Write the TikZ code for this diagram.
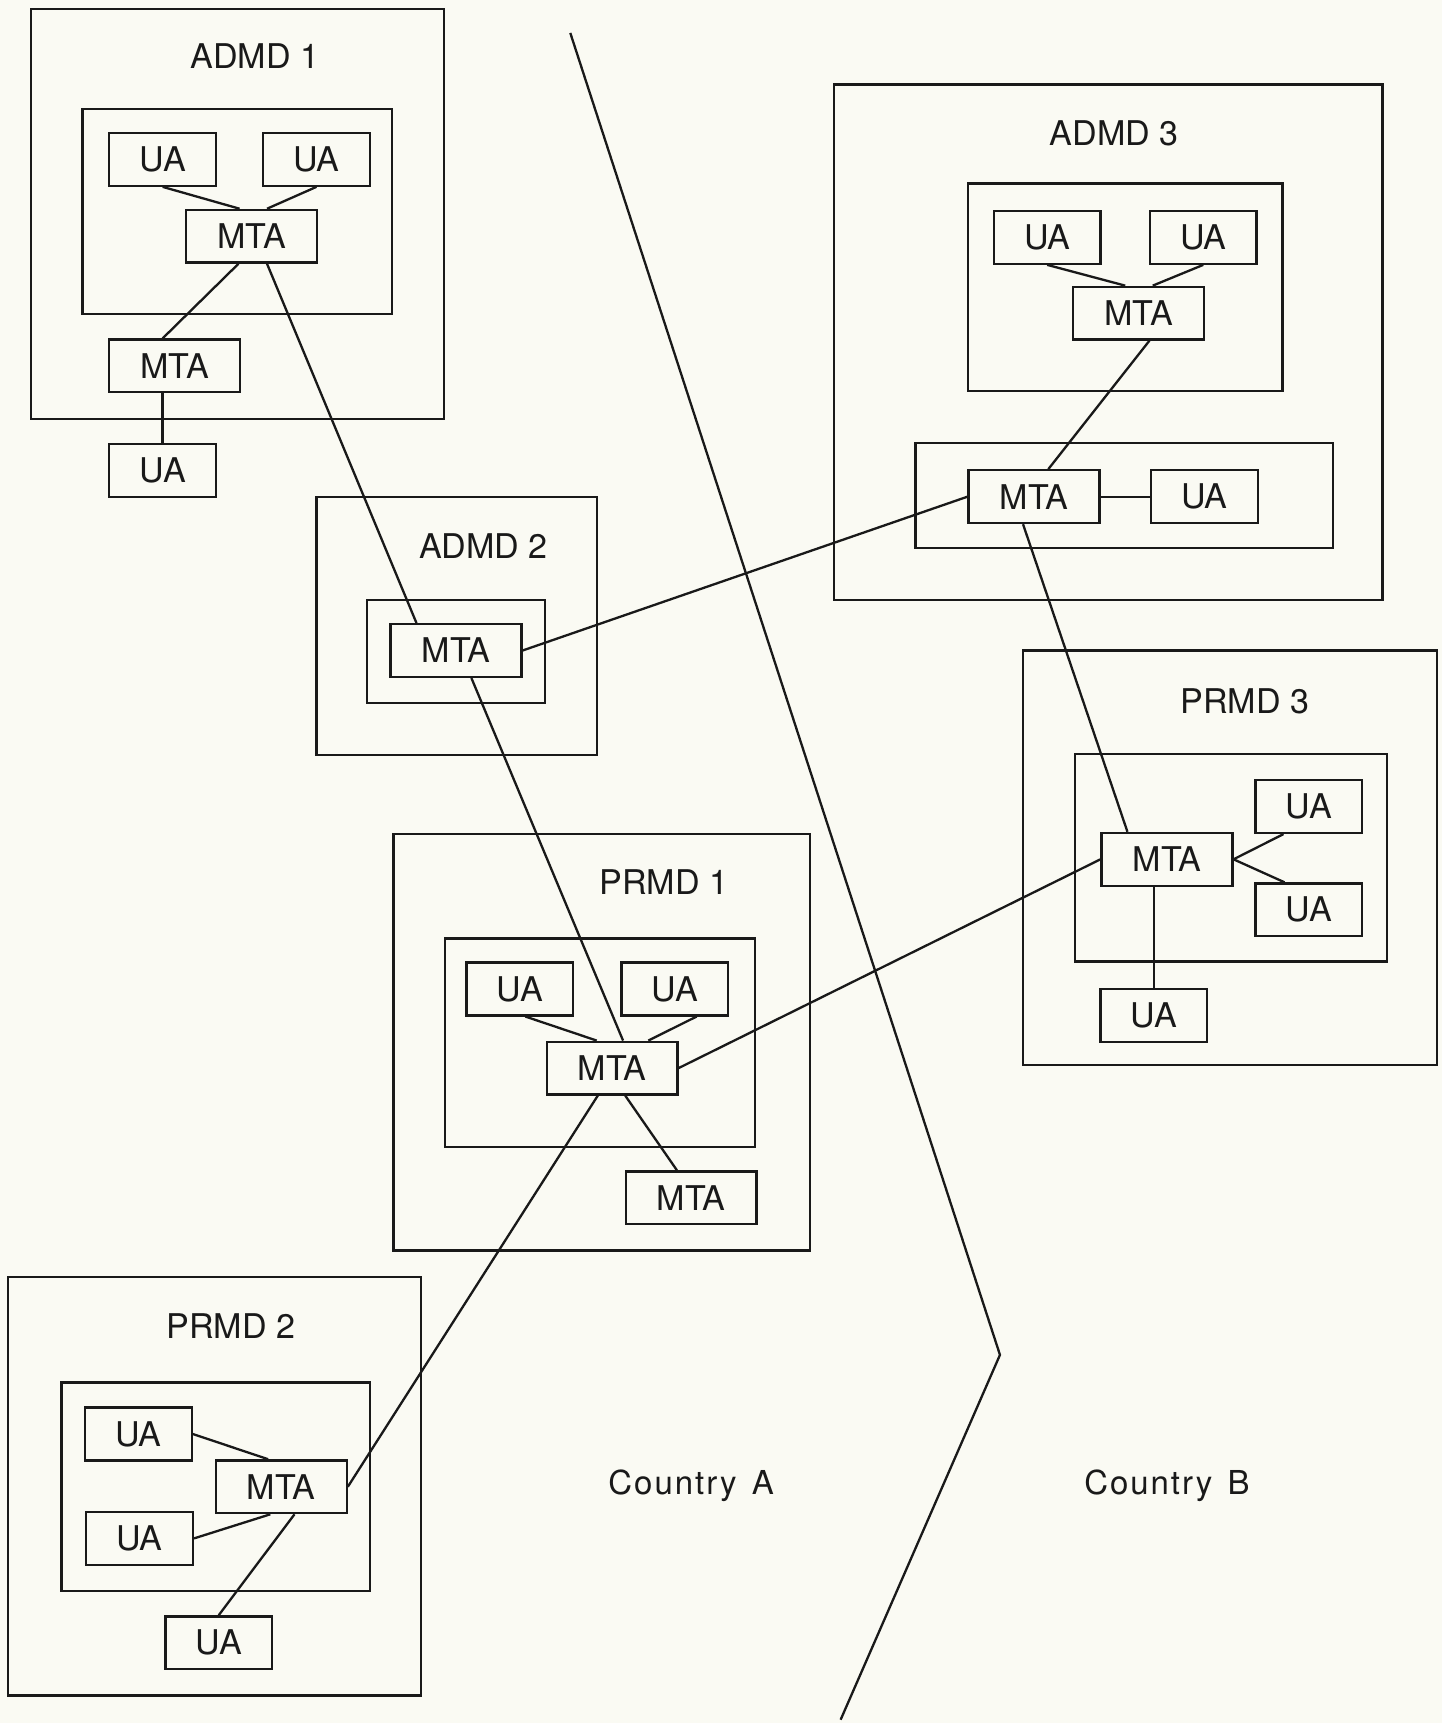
\documentclass[tikz,border=0pt]{standalone}
\usepackage{fontspec}
\setmainfont{TeX Gyre Heros}
\newfontfamily\spacedfont[LetterSpace=6]{TeX Gyre Heros}
\usetikzlibrary{calc,fit}
\definecolor{paper}{RGB}{250,250,243}
\definecolor{ink}{RGB}{25,25,25}
\begin{document}
\begin{tikzpicture}[x=1pt,y=-1pt,
  bx/.style={draw=ink, line width=2.1pt, inner sep=0pt, text=ink, font=\fontsize{31}{37}\selectfont},
  ua/.style={bx, minimum width=97pt, minimum height=48pt},
  mta/.style={bx, minimum width=119pt, minimum height=48pt},
  lbl/.style={font=\fontsize{31}{37}\selectfont, inner sep=0pt, text=ink},
  clbl/.style={font=\spacedfont\fontsize{30}{36}\selectfont, inner sep=0pt, text=ink},
  link/.style={draw=ink, line width=2.1pt},
  area/.style={draw=ink, line width=2.1pt, inner sep=0pt}]
\fill[paper] (0,0) rectangle (1312,1568);
\useasboundingbox (0,0) rectangle (1312,1568);

% ---------- ADMD 1 ----------
\node[area, fit={(28,8) (404,381)}] (a1) {};
\node[area, fit={(75,99) (357,286)}] (a1in) {};
\node[lbl] (a1l) at (232,51) {ADMD 1};
\node[ua]  (a1u1) at (148,145) {UA};
\node[ua]  (a1u2) at (288,145) {UA};
\node[mta] (a1m)  at (229,215) {MTA};
\node[mta] (a1m2) at (159,333) {MTA};
\node[ua]  (a1u3) at (148,428) {UA};

% ---------- ADMD 2 ----------
\node[area, fit={(288,452) (543,687)}] (a2) {};
\node[area, fit={(334,546) (496,640)}] (a2in) {};
\node[lbl] (a2l) at (440,497) {ADMD 2};
\node[mta] (a2m) at (415,592) {MTA};

% ---------- ADMD 3 ----------
\node[area, fit={(759,77) (1258,546)}] (a3) {};
\node[area, fit={(881,167) (1167,356)}] (a3in) {};
\node[area, fit={(833,403) (1213,499)}] (a3in2) {};
\node[lbl] (a3l) at (1014,121) {ADMD 3};
\node[ua]  (a3u1) at (953,216) {UA};
\node[ua]  (a3u2) at (1095,216) {UA};
\node[mta] (a3m)  at (1036,285) {MTA};
\node[mta] (a3m2) at (941,452) {MTA};
\node[ua]  (a3u3) at (1096,452) {UA};

% ---------- PRMD 1 ----------
\node[area, fit={(358,759) (737,1138)}] (p1) {};
\node[area, fit={(405,854) (687,1044)}] (p1in) {};
\node[lbl] (p1l) at (604,803) {PRMD 1};
\node[ua]  (p1u1) at (473,900) {UA};
\node[ua]  (p1u2) at (614,900) {UA};
\node[mta] (p1m)  at (557,972) {MTA};
\node[mta] (p1m2) at (629,1090) {MTA};

% ---------- PRMD 2 ----------
\node[area, fit={(7,1162) (383,1543)}] (p2) {};
\node[area, fit={(56,1258) (337,1448)}] (p2in) {};
\node[lbl] (p2l) at (210,1207) {PRMD 2};
\node[ua]  (p2u1) at (126,1305) {UA};
\node[mta] (p2m)  at (256,1353) {MTA};
\node[ua]  (p2u2) at (127,1400) {UA};
\node[ua]  (p2u3) at (199,1495) {UA};

% ---------- PRMD 3 ----------
\node[area, fit={(931,592) (1308,969)}] (p3) {};
\node[area, fit={(978,686) (1262,875)}] (p3in) {};
\node[lbl] (p3l) at (1133,638) {PRMD 3};
\node[ua]  (p3u1) at (1191,734) {UA};
\node[mta] (p3m)  at (1062,782) {MTA};
\node[ua]  (p3u2) at (1191,828) {UA};
\node[ua]  (p3u3) at (1050,924) {UA};

% ---------- connectors ----------
% ADMD 1
\draw[link] (a1u1.south) -- ($(a1m.north)+(-11,0)$);
\draw[link] (a1u2.south) -- ($(a1m.north)+(14,0)$);
\draw[link] ($(a1m.south)+(-12,0)$) -- ($(a1m2.north)+(-11,0)$);
\draw[link] (a1m2.south -| a1u3.north) -- (a1u3.north);
\draw[link] ($(a1m.south)+(14,0)$) -- ($(a2m.north)+(-36,0)$);
% ADMD 2
\draw[link] (a2m.east) -- (a3m2.west);
\draw[link] ($(a2m.south)+(14,0)$) -- ($(p1m.north)+(10,0)$);
% ADMD 3
\draw[link] (a3u1.south) -- ($(a3m.north)+(-12,0)$);
\draw[link] (a3u2.south) -- ($(a3m.north)+(13,0)$);
\draw[link] ($(a3m.south)+(10,0)$) -- ($(a3m2.north)+(13,0)$);
\draw[link] (a3m2.east) -- (a3u3.west);
\draw[link] ($(a3m2.south)+(-10,0)$) -- ($(p3m.north)+(-36,0)$);
% PRMD 1
\draw[link] ($(p1u1.south)+(5,0)$) -- ($(p1m.north)+(-14,0)$);
\draw[link] ($(p1u2.south)+(20,0)$) -- ($(p1m.north)+(33,0)$);
\draw[link] ($(p1m.south)+(12,0)$) -- ($(p1m2.north)+(-13,0)$);
\draw[link] (p1m.east) -- (p3m.west);
\draw[link] ($(p1m.south)+(-13,0)$) -- (p2m.east);
% PRMD 2
\draw[link] (p2u1.east) -- ($(p2m.north)+(-12,0)$);
\draw[link] (p2u2.east) -- ($(p2m.south)+(-10,0)$);
\draw[link] ($(p2m.south)+(12,0)$) -- (p2u3.north);
% PRMD 3
\draw[link] (p3m.east) -- ($(p3u1.south)+(-23,0)$);
\draw[link] (p3m.east) -- ($(p3u2.north)+(-22,0)$);
\draw[link] (p3m.south -| p3u3.north) -- (p3u3.north);

% ---------- border between countries ----------
\coordinate (c1) at (519,30);
\coordinate (c2) at (910,1233);
\coordinate (c3) at (765,1565);
\draw[link] (c1) -- (c2) -- (c3);
\node[clbl] (ca) at (629,1352) {Country\hspace{14pt}A};
\node[clbl] (cb) at (1062,1352) {Country\hspace{14pt}B};
\end{tikzpicture}
\end{document}
